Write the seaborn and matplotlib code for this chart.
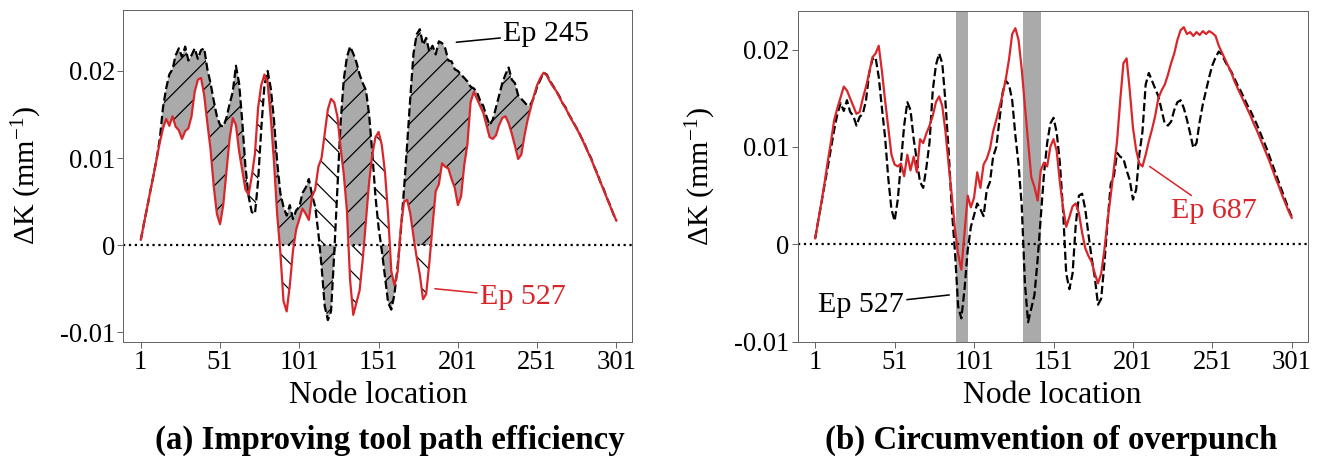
import numpy as np
import pandas as pd
import matplotlib
matplotlib.use("Agg")
import matplotlib.pyplot as plt
import seaborn as sns

# Curvature deviation (x 1e-3 mm^-1) sampled at every second node, 1..301
nodes = np.arange(1, 302, 2)

ep245 = [
    0.6, 2.5, 4.3, 6.2, 8.0, 9.9, 12.2, 15.8, 18.0, 19.6,
    20.2, 21.8, 22.6, 21.6, 22.8, 21.2, 21.8, 22.6, 21.4, 22.4,
    22.6, 20.2, 18.6, 16.6, 14.8, 13.8, 13.6, 14.6, 16.2, 17.6,
    20.6, 18.6, 14.2, 9.0, 5.6, 3.8, 3.6, 7.4, 13.4, 18.4,
    20.0, 18.0, 14.4, 9.6, 6.0, 4.4, 3.4, 4.6, 3.0, 4.0,
    4.4, 6.0, 6.6, 7.6, 5.8, 4.4, 1.4, -2.4, -7.0, -8.6,
    -7.6, -1.0, 6.4, 14.0, 19.0, 21.6, 22.8, 22.0, 21.0, 19.6,
    18.6, 17.8, 15.0, 10.6, 5.6, 2.0, -0.6, -3.6, -6.6, -7.4,
    -5.6, -2.4, 1.6, 6.4, 11.6, 17.0, 22.0, 24.2, 24.8, 23.0,
    23.8, 22.2, 22.9, 21.9, 23.4, 23.2, 22.6, 21.2, 21.1, 20.2,
    20.0, 19.6, 19.2, 18.8, 18.2, 18.0, 17.6, 16.6, 16.0, 14.8,
    13.8, 14.4, 15.8, 17.2, 18.6, 19.6, 20.4, 19.0, 18.6, 17.2,
    16.8, 16.4, 16.0, 16.2, 17.0, 18.2, 19.0, 19.8, 19.6, 18.9,
    18.3, 17.7, 17.1, 16.3, 15.8, 15.0, 14.4, 13.7, 13.1, 12.3,
    11.6, 10.7, 10.0, 9.0, 8.2, 7.2, 6.4, 5.4, 4.6, 3.6,
    2.8,
]

ep527 = [
    0.6, 2.5, 4.3, 6.2, 8.0, 9.9, 11.8, 13.4, 14.5, 13.7,
    14.8, 13.6, 13.2, 12.2, 13.1, 13.4, 14.8, 17.6, 19.0, 19.2,
    17.2, 14.0, 11.0, 6.8, 3.6, 2.4, 4.6, 8.4, 12.2, 14.6,
    13.8, 10.8, 8.6, 6.4, 5.8, 7.9, 10.5, 15.8, 18.4, 19.6,
    18.6, 14.6, 9.6, 3.6, -0.8, -6.4, -7.6, -4.6, -0.6, 1.8,
    3.0, 4.2, 3.6, 2.9, 5.6, 6.4, 9.0, 10.0, 12.8, 15.6,
    16.8, 16.4, 14.8, 11.2, 8.2, 4.0, -4.0, -8.0, -6.6, -5.2,
    -1.6, 2.8, 7.2, 10.4, 12.4, 13.0, 11.5, 8.4, 3.5, -3.0,
    -4.6, -3.0, 2.0, 5.0, 5.2, 3.6, 1.0, -1.4, -3.4, -6.2,
    -5.6, -2.0, 2.2, 6.2, 7.0, 9.4, 9.0, 8.8, 7.6, 6.6,
    4.6, 5.6, 9.2, 11.6, 16.4, 17.6, 16.8, 16.0, 15.2, 13.8,
    12.4, 12.2, 12.6, 13.8, 14.6, 14.8, 14.0, 12.8, 11.4, 9.9,
    10.4, 12.6, 14.4, 15.8, 17.2, 18.4, 19.2, 19.8, 19.5, 18.8,
    18.2, 17.7, 17.0, 16.3, 15.7, 15.0, 14.3, 13.7, 13.0, 12.3,
    11.5, 10.7, 9.9, 9.0, 8.1, 7.2, 6.3, 5.4, 4.5, 3.6,
    2.8,
]

ep687 = [
    0.6, 2.5, 4.4, 6.4, 8.6, 10.6, 12.8, 14.0, 15.1, 16.2,
    15.8, 15.0, 14.2, 13.4, 13.6, 15.0, 16.2, 17.6, 19.2, 19.6,
    20.4, 17.8, 14.8, 12.0, 9.2, 8.2, 8.0, 8.3, 7.0, 9.2,
    7.6, 9.0, 7.4, 10.8, 10.4, 11.4, 12.2, 13.2, 14.6, 15.2,
    14.2, 11.6, 8.2, 5.0, 1.5, -1.0, -2.6, 1.2, 5.0, 3.8,
    4.8, 7.4, 5.8, 8.2, 8.8, 9.8, 11.6, 12.8, 14.1, 15.4,
    17.0, 19.0, 21.6, 22.2, 21.0, 18.0, 14.2, 10.6, 6.9, 5.9,
    4.5, 7.6, 8.4, 8.0, 10.0, 10.8, 9.6, 6.4, 3.8, 1.8,
    2.8, 3.9, 4.2, 3.2, 1.2, -0.4, -1.2, -1.8, -3.0, -4.0,
    -3.0, -0.6, 2.4, 5.0, 7.8, 10.6, 14.8, 18.6, 19.1, 15.8,
    12.0, 9.7, 8.3, 8.0, 9.2, 10.6, 11.8, 13.2, 15.0, 15.8,
    16.4, 17.4, 18.6, 19.6, 21.0, 22.0, 22.3, 21.6, 21.8, 21.4,
    21.8, 21.5, 21.9, 21.6, 21.9, 21.7, 21.4, 20.4, 19.7, 19.0,
    18.3, 17.6, 16.7, 16.0, 15.3, 14.6, 13.9, 13.2, 12.4, 11.7,
    10.9, 10.1, 9.3, 8.5, 7.6, 6.7, 5.9, 5.0, 4.2, 3.4,
    2.7,
]

xtick_vals = [1, 51, 101, 151, 201, 251, 301]
ytick_vals = [-0.01, 0.0, 0.01, 0.02]
ytick_labels = ["-0.01", "0", "0.01", "0.02"]
overpunch_spans = [(89.5, 97.0), (131.5, 143.0)]

unit = 1e-3
df = pd.DataFrame({
    "node": nodes,
    "Ep 245": np.array(ep245) * unit,
    "Ep 527": np.array(ep527) * unit,
    "Ep 687": np.array(ep687) * unit,
})

sns.set_style("white")
plt.rcParams["font.family"] = ["Liberation Serif", "DejaVu Serif"]
plt.rcParams["mathtext.fontset"] = "custom"
plt.rcParams["mathtext.rm"] = "Liberation Serif"
plt.rcParams["mathtext.it"] = "Liberation Serif:italic"
plt.rcParams["hatch.linewidth"] = 1.1
plt.rcParams["text.color"] = "black"
plt.rcParams["axes.labelcolor"] = "black"

RED = "#d9262b"
GRAY = "#aaaaaa"
SPINE = "#666666"

fig = plt.figure(figsize=(1322 / 80, 470 / 80), dpi=80)
ax1 = fig.add_axes([0.0933, 0.273, 0.385, 0.7057])
ax2 = fig.add_axes([0.6034, 0.273, 0.3858, 0.7043])

x = df["node"].to_numpy()
a = df["Ep 245"].to_numpy()
b = df["Ep 527"].to_numpy()

# (a) symmetric difference of the areas enclosed by each curve and zero
pa, pb = np.maximum(a, 0), np.maximum(b, 0)
na, nb = np.minimum(a, 0), np.minimum(b, 0)
fill_kw = dict(interpolate=True, edgecolor="black", linewidth=0, zorder=1)
ax1.fill_between(x, pa, pb, where=pa > pb, facecolor=GRAY, hatch="/", **fill_kw)
ax1.fill_between(x, pa, pb, where=pb > pa, facecolor="white", hatch="\\", **fill_kw)
ax1.fill_between(x, na, nb, where=na < nb, facecolor=GRAY, hatch="/", **fill_kw)
ax1.fill_between(x, na, nb, where=nb < na, facecolor="white", hatch="\\", **fill_kw)

sns.lineplot(data=df, x="node", y="Ep 245", ax=ax1, color="black",
             linestyle="--", linewidth=2.0, zorder=3)
sns.lineplot(data=df, x="node", y="Ep 527", ax=ax1, color=RED,
             linewidth=2.0, zorder=4)

# (b) overpunch zones and the two episodes
for lo, hi in overpunch_spans:
    ax2.axvspan(lo, hi, color=GRAY, linewidth=0, zorder=1)
sns.lineplot(data=df, x="node", y="Ep 527", ax=ax2, color="black",
             linestyle="--", linewidth=2.0, zorder=3)
sns.lineplot(data=df, x="node", y="Ep 687", ax=ax2, color=RED,
             linewidth=2.0, zorder=4)

for ax, ylim in ((ax1, (-0.01108, 0.0270)), (ax2, (-0.0100, 0.0240))):
    ax.axhline(0, color="black", linestyle=":", linewidth=2.0, zorder=2)
    ax.set_xlim(-10, 311)
    ax.set_ylim(*ylim)
    ax.set_xticks(xtick_vals)
    ax.set_xticklabels([str(v) for v in xtick_vals])
    ax.set_yticks(ytick_vals)
    ax.set_yticklabels(ytick_labels)
    ax.tick_params(axis="both", which="major", bottom=True, left=True,
                   direction="out", length=5, width=0.9, color=SPINE,
                   labelsize=24, pad=2.5, labelcolor="black")
    for sp in ax.spines.values():
        sp.set_color(SPINE)
        sp.set_linewidth(0.9)
    ax.set_xlabel("Node location", fontsize=28.5, va="center", color="black")
    ax.xaxis.set_label_coords(0.5, -0.163)
    ax.set_ylabel("ΔK (mm$^{-1}$)", fontsize=27, va="center", color="black")
    ax.yaxis.set_label_coords(-0.19, 0.5)

ann_kw = dict(fontsize=27, ha="left", va="center")
ax1.annotate("Ep 245", xy=(200, 0.0233), xytext=(229.5, 0.0243), color="black",
             arrowprops=dict(arrowstyle="-", color="black", lw=1.4,
                             shrinkA=0, shrinkB=0), **ann_kw)
ax1.annotate("Ep 527", xy=(186.5, -0.0050), xytext=(214.8, -0.0060), color=RED,
             arrowprops=dict(arrowstyle="-", color=RED, lw=1.4,
                             shrinkA=0, shrinkB=0), **ann_kw)
ax2.annotate("Ep 527", xy=(85.4, -0.0052), xytext=(57, -0.0062), color="black",
             arrowprops=dict(arrowstyle="-", color="black", lw=1.4,
                             shrinkA=0, shrinkB=0),
             fontsize=27, ha="right", va="center")
ax2.annotate("Ep 687", xy=(211.5, 0.0080), xytext=(225, 0.0034), color=RED,
             arrowprops=dict(arrowstyle="-", color=RED, lw=1.4,
                             shrinkA=0, shrinkB=0), **ann_kw)

fig.text(390 / 1322, 1 - 440 / 470, "(a) Improving tool path efficiency",
         ha="center", va="center", fontsize=29.5, fontweight="bold",
         color="black")
fig.text(1051 / 1322, 1 - 440 / 470, "(b) Circumvention of overpunch",
         ha="center", va="center", fontsize=29.5, fontweight="bold",
         color="black")

fig.savefig("out.png", dpi=80, facecolor="white")
